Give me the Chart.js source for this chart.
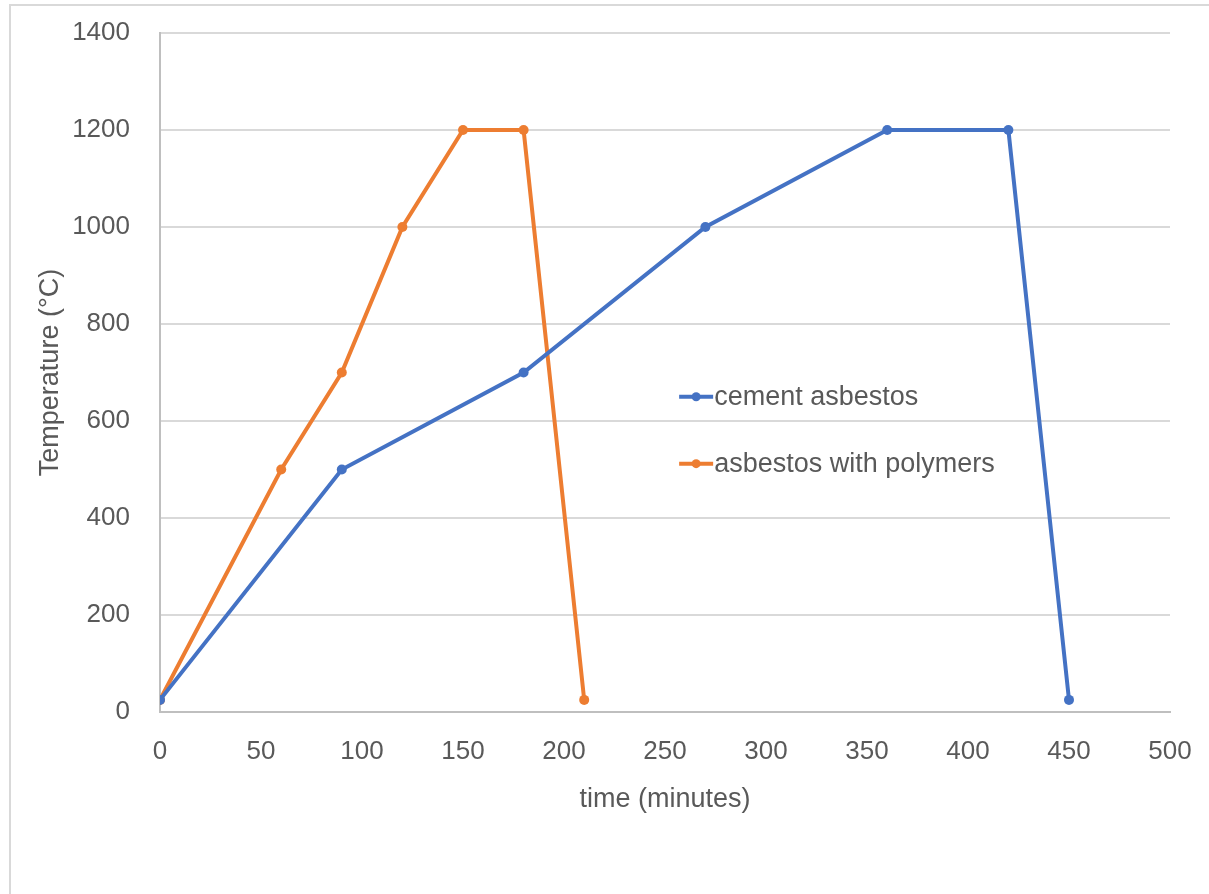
<!DOCTYPE html>
<html>
<head>
<meta charset="utf-8">
<script src="https://cdn.jsdelivr.net/npm/chart.js@4/dist/chart.umd.min.js"></script>
<style>
  html, body { margin: 0; padding: 0; background: #ffffff; }
  #wrap { width: 1209px; height: 894px; position: relative; }
</style>
</head>
<body>
<div id="wrap"><canvas id="chart" width="1209" height="894"></canvas></div>
<script>
// Firing schedules: time in minutes vs furnace temperature
const cementTime = [0, 90, 180, 270, 360, 420, 450];
const cementTemp = [25, 500, 700, 1000, 1200, 1200, 25];
const polymerTime = [0, 60, 90, 120, 150, 180, 210];
const polymerTemp = [25, 500, 700, 1000, 1200, 1200, 25];
const seriesNames = ['cement asbestos', 'asbestos with polymers'];
const seriesColors = ['#4472C4', '#ED7D31'];
const xTitle = 'time (minutes)';
const yTitle = 'Temperature (°C)';

const FONT = '"Liberation Sans", Arial, sans-serif';
const TEXT = '#595959';

function toPoints(xs, ys) {
  return xs.map((x, i) => ({ x: x, y: ys[i] }));
}

// Edge labels may overhang the plot; the outer layout padding already leaves room
function clearOverhang(scale) {
  scale.paddingTop = 0;
  scale.paddingBottom = 0;
  scale.paddingLeft = 0;
  scale.paddingRight = 0;
}

// Thin frame around the drawing surface
const framePlugin = {
  id: 'frame',
  beforeDraw(chart) {
    const ctx = chart.ctx;
    ctx.save();
    ctx.fillStyle = '#ffffff';
    ctx.fillRect(0, 0, chart.width, chart.height);
    ctx.strokeStyle = '#d9d9d9';
    ctx.lineWidth = 2;
    ctx.beginPath();
    ctx.moveTo(10, chart.height);
    ctx.lineTo(10, 5);
    ctx.lineTo(chart.width, 5);
    ctx.stroke();
    ctx.restore();
  }
};

// Legend placed inside the plot area
const innerLegend = {
  id: 'innerLegend',
  afterDatasetsDraw(chart) {
    const ctx = chart.ctx;
    const xs = chart.scales.x, ys = chart.scales.y;
    const x0 = xs.getPixelForValue(257);
    const rows = [ys.getPixelForValue(650), ys.getPixelForValue(512)];
    ctx.save();
    chart.data.datasets.forEach((ds, i) => {
      const y = rows[i];
      ctx.strokeStyle = ds.borderColor;
      ctx.lineWidth = 4;
      ctx.beginPath();
      ctx.moveTo(x0, y);
      ctx.lineTo(x0 + 34, y);
      ctx.stroke();
      ctx.fillStyle = ds.borderColor;
      ctx.beginPath();
      ctx.arc(x0 + 17, y, 4.5, 0, Math.PI * 2);
      ctx.fill();
      ctx.fillStyle = TEXT;
      ctx.font = '27px ' + FONT;
      ctx.textBaseline = 'middle';
      ctx.textAlign = 'left';
      ctx.fillText(ds.label, x0 + 35, y + 1);
    });
    ctx.restore();
  }
};

new Chart(document.getElementById('chart'), {
  type: 'line',
  data: {
    datasets: [
      {
        label: seriesNames[0],
        data: toPoints(cementTime, cementTemp),
        borderColor: seriesColors[0],
        backgroundColor: seriesColors[0],
        borderWidth: 4,
        pointRadius: 5,
        pointBorderWidth: 0,
        tension: 0
      },
      {
        label: seriesNames[1],
        data: toPoints(polymerTime, polymerTemp),
        borderColor: seriesColors[1],
        backgroundColor: seriesColors[1],
        borderWidth: 4,
        pointRadius: 5,
        pointBorderWidth: 0,
        tension: 0
      }
    ]
  },
  options: {
    responsive: false,
    animation: false,
    devicePixelRatio: 1,
    layout: { padding: { left: 0, top: 33, right: 39, bottom: 0 } },
    plugins: {
      legend: { display: false },
      tooltip: { enabled: false }
    },
    scales: {
      x: {
        type: 'linear',
        min: 0,
        max: 500,
        afterFit(scale) { scale.height = 182; clearOverhang(scale); },
        ticks: {
          stepSize: 50,
          padding: 24,
          color: TEXT,
          font: { family: FONT, size: 26 },
          callback: (v) => String(v)
        },
        grid: { display: false, drawTicks: false },
        border: { display: true, color: '#bfbfbf', width: 2 },
        title: {
          display: true,
          text: xTitle,
          color: TEXT,
          font: { family: FONT, size: 27 },
          padding: { top: 0, bottom: 78 }
        }
      },
      y: {
        type: 'linear',
        min: 0,
        max: 1400,
        afterFit(scale) { scale.width = 160; clearOverhang(scale); },
        ticks: {
          stepSize: 200,
          padding: 30,
          color: TEXT,
          font: { family: FONT, size: 26 },
          callback: (v) => String(v)
        },
        grid: { color: '#d9d9d9', lineWidth: 2, drawTicks: false },
        border: { display: true, color: '#bfbfbf', width: 2 },
        title: {
          display: true,
          text: yTitle,
          color: TEXT,
          font: { family: FONT, size: 27 },
          padding: { top: 34, bottom: 0 }
        }
      }
    }
  },
  plugins: [framePlugin, innerLegend]
});
</script>
</body>
</html>
